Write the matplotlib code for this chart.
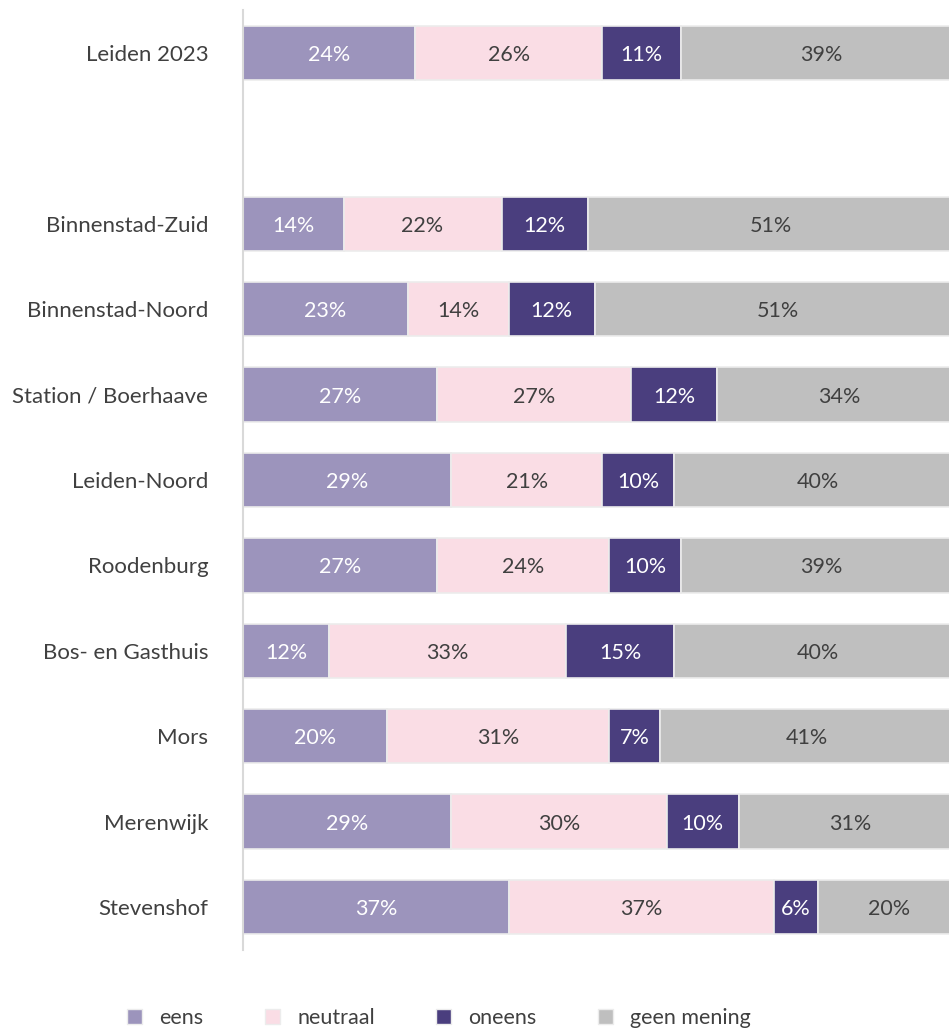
import matplotlib
matplotlib.use("Agg")
import matplotlib.pyplot as plt
from matplotlib.patches import Patch

plt.rcParams['font.family'] = ['Lato', 'DejaVu Sans']

categories = ["Leiden 2023", "Binnenstad-Zuid", "Binnenstad-Noord", "Station / Boerhaave",
              "Leiden-Noord", "Roodenburg", "Bos- en Gasthuis", "Mors", "Merenwijk", "Stevenshof"]
eens = [24, 14, 23, 27, 29, 27, 12, 20, 29, 37]
neutraal = [26, 22, 14, 27, 21, 24, 33, 31, 30, 37]
oneens = [11, 12, 12, 12, 10, 10, 15, 7, 10, 6]
geen_mening = [39, 51, 51, 34, 40, 39, 40, 41, 31, 20]
series_names = ["eens", "neutraal", "oneens", "geen mening"]

colors = ["#9c94bc", "#fadde5", "#4a3e7e", "#bfbfbf"]
text_colors = ["white", "#404040", "white", "#404040"]

positions = [0] + list(range(2, 11))

fig = plt.figure(figsize=(9.49, 10.30), dpi=100)
ax = fig.add_axes([243/949, 1-949.7/1030, 1-243/949, (949.7-10.3)/1030])

left = [0]*len(categories)
for vals, col, tcol in zip([eens, neutraal, oneens, geen_mening], colors, text_colors):
    ax.barh(positions, vals, left=left, height=0.635, color=col,
            edgecolor="#ececec", linewidth=1.2)
    for p, v, l in zip(positions, vals, left):
        ax.text(l + v/2, p, f"{v}%", ha="center", va="center_baseline", color=tcol, fontsize=15.5)
    left = [a + b for a, b in zip(left, vals)]

ax.set_xlim(0, 98.3)
ax.set_ylim(10.5, -0.5)
ax.set_yticks(positions)
ax.set_yticklabels(categories, fontsize=16, color="#404040")
ax.tick_params(axis='y', length=0, pad=25)
ax.set_xticks([])
for s in ["top", "right", "bottom"]:
    ax.spines[s].set_visible(False)
ax.spines["left"].set_color("#d9d9d9")
ax.spines["left"].set_linewidth(1.5)

handles = [Patch(facecolor=c, edgecolor="#ececec", label=n) for c, n in zip(colors, series_names)]
fig.legend(handles=handles, loc="center", bbox_to_anchor=(439/949, 1-1018/1030), ncol=4,
           frameon=False, fontsize=15.5, handlelength=0.7, handleheight=0.7,
           columnspacing=2.85, handletextpad=0.8, labelcolor="#404040")

fig.savefig("out.png", dpi=100)
